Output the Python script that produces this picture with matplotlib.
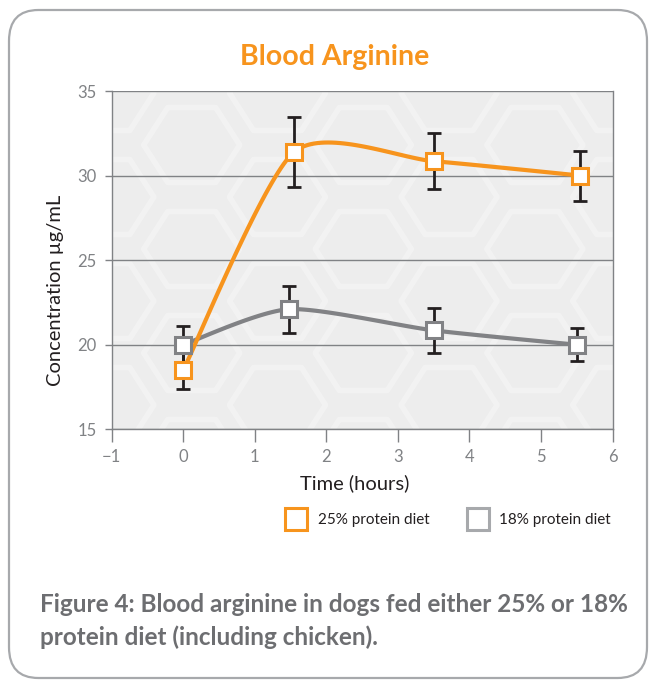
import numpy as np
import matplotlib.pyplot as plt
from matplotlib.lines import Line2D
from matplotlib.patches import FancyBboxPatch, Polygon

plt.rcParams['font.family'] = ['Lato', 'DejaVu Sans']

# data
time_25 = [0, 1.55, 3.5, 5.55]
conc_25 = [18.5, 31.4, 30.85, 30.0]
err_25 = [1.1, 2.05, 1.65, 1.48]

time_18 = [0, 1.48, 3.5, 5.5]
conc_18 = [20.0, 22.1, 20.85, 20.0]
err_18 = [1.1, 1.4, 1.33, 0.98]

labels = ['25% protein diet', '18% protein diet']
orange = '#f7941d'
grey = '#818285'
text_grey = '#6d6e71'


def smooth(x, y, n=40, k=8.5):
    # cardinal spline through the points, like a spreadsheet "smoothed line"
    p = np.column_stack([x, y]).astype(float)
    p = np.vstack([p[0], p, p[-1]])
    out = []
    for i in range(1, len(p) - 2):
        p0, p1, p2, p3 = p[i - 1], p[i], p[i + 1], p[i + 2]
        c1 = p1 + (p2 - p0) / k
        c2 = p2 - (p3 - p1) / k
        t = np.linspace(0, 1, n)[:, None]
        seg = ((1 - t) ** 3) * p1 + 3 * ((1 - t) ** 2) * t * c1 + 3 * (1 - t) * t ** 2 * c2 + t ** 3 * p2
        out.append(seg)
    out = np.vstack(out)
    return out[:, 0], out[:, 1]


fig = plt.figure(figsize=(6.54, 6.86), dpi=100)
W, H = 654, 686

# rounded frame round everything
frame = FancyBboxPatch((9 / W, 8 / H), 638 / W, 668 / H,
                       boxstyle='round,pad=0,rounding_size=0.045',
                       transform=fig.transFigure, facecolor='none',
                       edgecolor='#a7a9ac', linewidth=1.6, zorder=-1)
fig.patches.append(frame)

ax_l, ax_r, ax_t, ax_b = 111.7, 612.5, 91, 429.3
ax = fig.add_axes([ax_l / W, 1 - ax_b / H, (ax_r - ax_l) / W, (ax_b - ax_t) / H])
ax.set_facecolor('#ededed')

# faint honeycomb in the background
aw, ah = ax_r - ax_l, ax_b - ax_t
r = 48
ang = np.radians(np.arange(0, 360, 60))
for k in range(-2, 8):
    cx = 191.7 + k * 85.8 - ax_l
    for j in range(-2, 5):
        cy = 145 + j * 104 + (52 if k % 2 else 0) - ax_t
        vx = (cx + r * np.cos(ang)) / aw
        vy = 1 - (cy + r * 0.9 * np.sin(ang)) / ah
        hexa = Polygon(np.column_stack([vx, vy]), closed=True, fill=False,
                       edgecolor='white', alpha=0.3, linewidth=4,
                       joinstyle='round', transform=ax.transAxes, zorder=0.5)
        ax.add_patch(hexa)

ax.set_xlim(-1, 6)
ax.set_ylim(15, 35)
ax.set_xticks(range(-1, 7))
ax.set_xticklabels(['\u22121'] + [str(i) for i in range(0, 7)])
ax.set_yticks([15, 20, 25, 30, 35])
ax.yaxis.grid(True, color='#808285', linewidth=1.0, zorder=1)
ax.set_axisbelow(True)
for s in ['left', 'bottom', 'right']:
    ax.spines[s].set_color('#808285')
    ax.spines[s].set_linewidth(1.0)
ax.spines['top'].set_visible(False)
ax.tick_params(axis='both', colors='#808285', labelcolor='#808285',
               labelsize=12, width=1.0, direction='out')
ax.tick_params(axis='x', length=9, pad=5)
ax.tick_params(axis='y', length=5, pad=6)

for t, c, e, col in [(time_18, conc_18, err_18, grey), (time_25, conc_25, err_25, orange)]:
    sx, sy = smooth(t, c)
    ax.plot(sx, sy, color=col, linewidth=3, zorder=3, solid_capstyle='round')
    ax.errorbar(t, c, yerr=e, fmt='none', ecolor='#231f20', elinewidth=2,
                capsize=5, capthick=2, zorder=2)
    ax.plot(t, c, linestyle='none', marker='s', markersize=11,
            markerfacecolor='white', markeredgecolor=col, markeredgewidth=2.2, zorder=4)

ax.set_xlabel('Time (hours)', fontsize=14.5, color='#231f20')
ax.xaxis.set_label_coords((355 - ax_l) / aw, 1 - (474 - ax_t) / ah)
ax.set_ylabel('Concentration \u00b5g/mL', fontsize=14.5, color='#231f20')
ax.yaxis.set_label_coords((64 - ax_l) / aw, 1 - (290 - ax_t) / ah)

fig.text(335 / W, 1 - 57 / H, 'Blood Arginine', color=orange, fontsize=20.5,
         fontweight='bold', ha='center', va='center')

handles = [Line2D([], [], linestyle='none', marker='s', markersize=16,
                  markerfacecolor='white', markeredgecolor=orange, markeredgewidth=2.2),
           Line2D([], [], linestyle='none', marker='s', markersize=16,
                  markerfacecolor='white', markeredgecolor='#a7a9ac', markeredgewidth=2.2)]
fig.legend(handles, labels, loc='center', bbox_to_anchor=(449 / W, 1 - 520 / H),
           ncol=2, frameon=False, fontsize=11, handlelength=1.2,
           handletextpad=0.8, columnspacing=2.6, labelcolor='#231f20')

fig.text(40 / W, 1 - 605 / H, 'Figure 4: Blood arginine in dogs fed either 25% or 18%',
         color=text_grey, fontsize=17.5, fontweight='bold', ha='left', va='center')
fig.text(40 / W, 1 - 637 / H, 'protein diet (including chicken).',
         color=text_grey, fontsize=17.5, fontweight='bold', ha='left', va='center')

fig.savefig('out.png', dpi=100, facecolor='white')
